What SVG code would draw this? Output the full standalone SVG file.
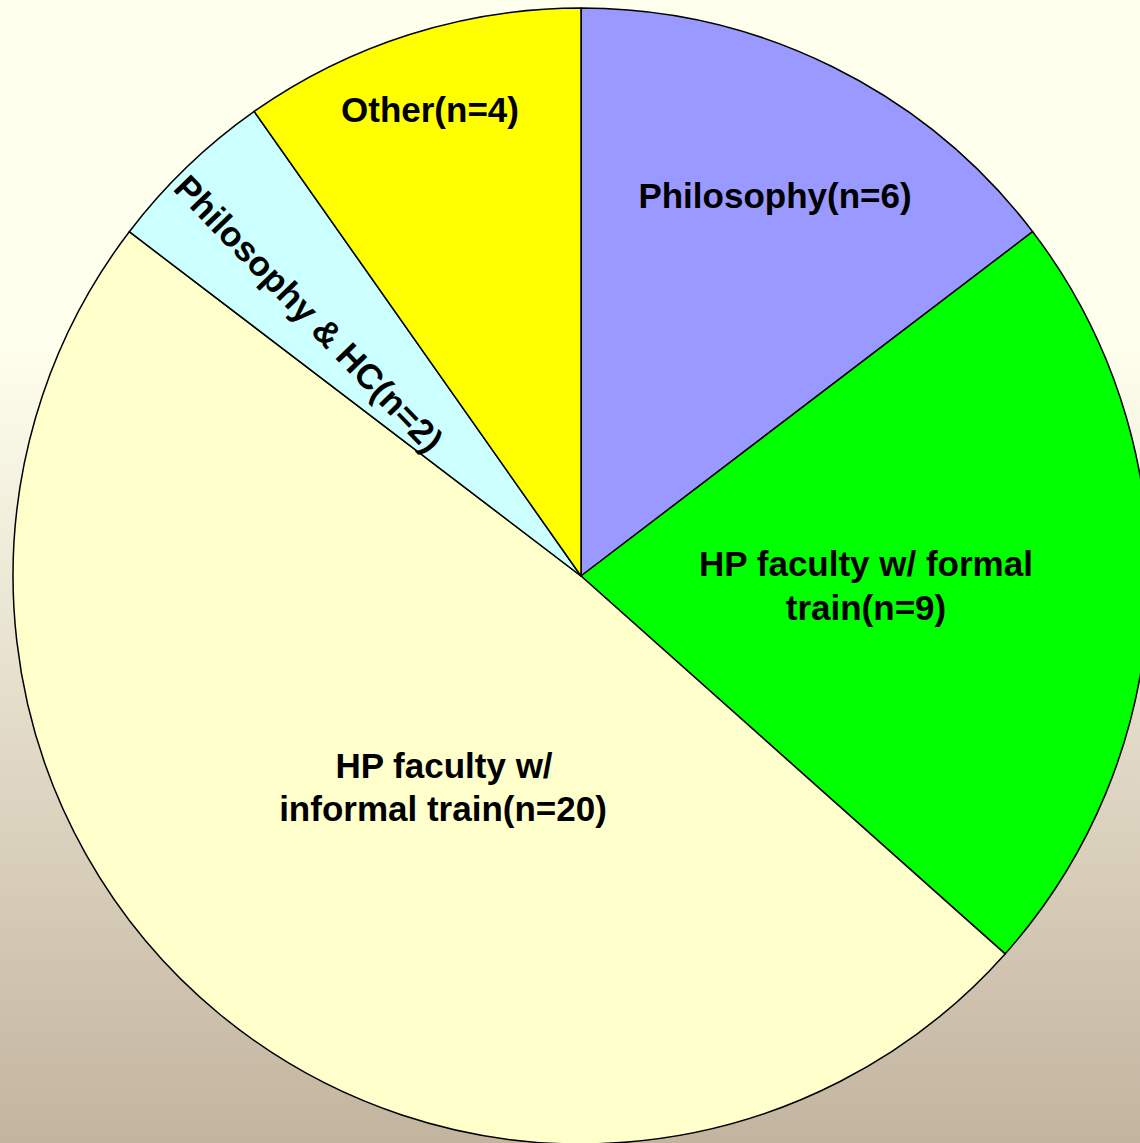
<svg xmlns="http://www.w3.org/2000/svg" width="1140" height="1143" viewBox="0 0 1140 1143">
<defs>
<linearGradient id="bg" x1="0" y1="0" x2="0" y2="1">
<stop offset="0" stop-color="#FFFFEE"/>
<stop offset="0.3" stop-color="#FFFFEE"/>
<stop offset="1" stop-color="#C3B49F"/>
</linearGradient>
</defs>
<style>
.sl{stroke:#000;stroke-width:1.5;stroke-linejoin:round}
.lb{font-family:"Liberation Sans",Arial,sans-serif;font-weight:bold;font-size:35px;fill:#000;text-anchor:middle}
</style>
<rect width="1140" height="1143" fill="url(#bg)"/>
<g id="slice-philosophy">
<path class="sl" fill="#9999FF" d="M581,576 L581,8 A568,568 0 0 1 1032.7,231.7 Z"/>
<text class="lb" x="775" y="208">Philosophy(n=6)</text>
</g>
<g id="slice-hp-formal">
<path class="sl" fill="#00FF00" d="M581,576 L1032.7,231.7 A568,568 0 0 1 1005.1,953.9 Z"/>
<text class="lb" x="866" y="576">HP faculty w/ formal</text>
<text class="lb" x="866" y="620">train(n=9)</text>
</g>
<g id="slice-hp-informal">
<path class="sl" fill="#FFFFCC" d="M581,576 L1005.1,953.9 A568,568 0 0 1 129.3,231.7 Z"/>
<text class="lb" x="444" y="778">HP faculty w/</text>
<text class="lb" x="443" y="821">informal train(n=20)</text>
</g>
<g id="slice-philosophy-hc">
<path class="sl" fill="#CCFFFF" d="M581,576 L129.3,231.7 A568,568 0 0 1 254.2,111.4 Z"/>
<text class="lb" transform="translate(300,322) rotate(46)">Philosophy &amp; HC(n=2)</text>
</g>
<g id="slice-other">
<path class="sl" fill="#FFFF00" d="M581,576 L254.2,111.4 A568,568 0 0 1 581,8 Z"/>
<text class="lb" x="430" y="122">Other(n=4)</text>
</g>
</svg>
